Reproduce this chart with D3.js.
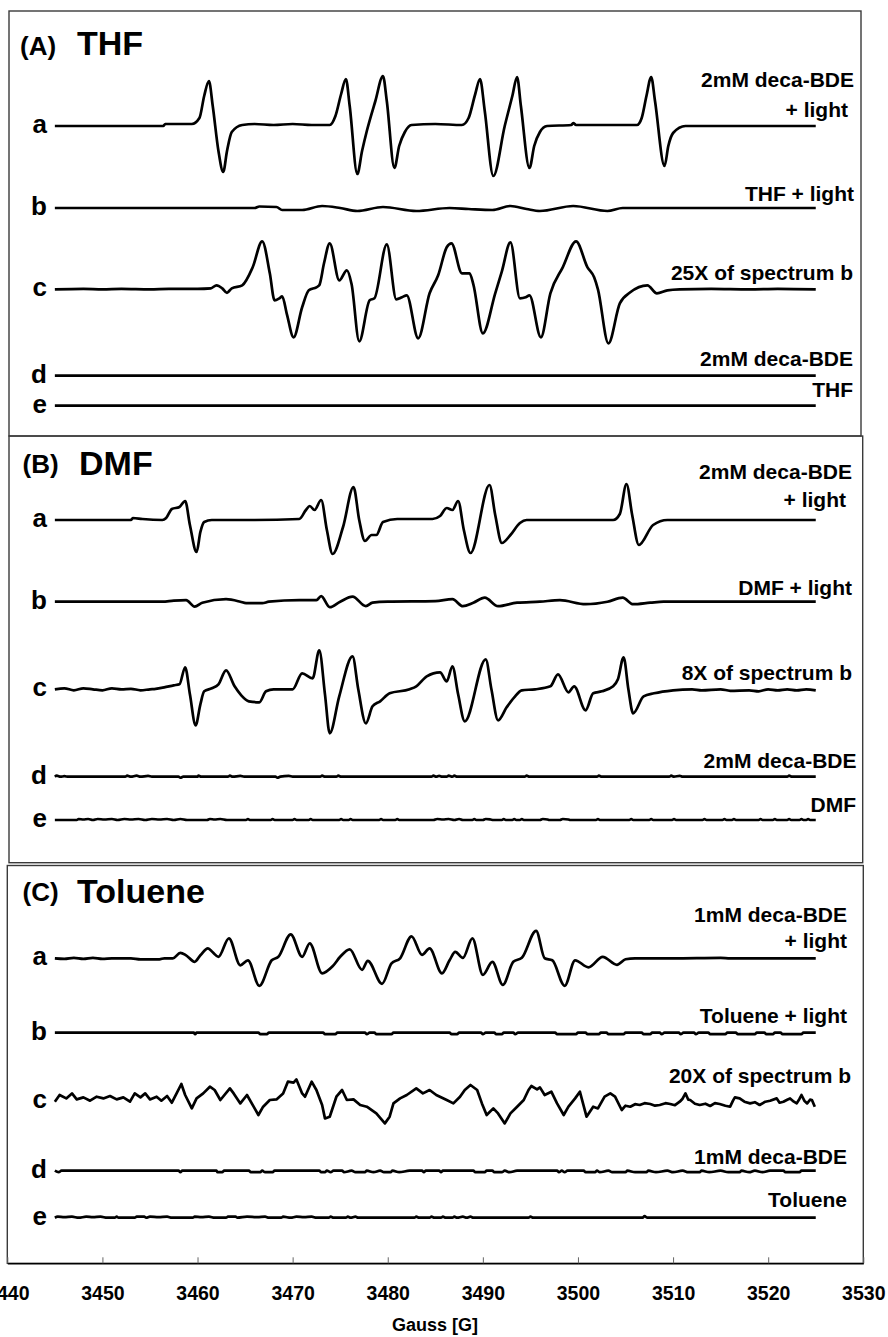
<!DOCTYPE html>
<html>
<head>
<meta charset="utf-8">
<script src="https://cdn.jsdelivr.net/npm/d3@7"></script>
<style>
  html, body { margin: 0; padding: 0; background: #fff; }
  svg { display: block; font-family: "Liberation Sans", Arial, Helvetica, sans-serif; }
</style>
</head>
<body>
<svg id="chart" width="888" height="1337"></svg>
<script>
// ── AXIS / LABEL TEXT ─────────────────────────────────────────────
const gaussTicks = [3440, 3450, 3460, 3470, 3480, 3490, 3500, 3510, 3520, 3530];
const axisTitle = 'Gauss [G]';
const panelTags = ['(A)', '(B)', '(C)'];
const solvents = ['THF', 'DMF', 'Toluene'];
const traceLetters = ['a', 'b', 'c', 'd', 'e'];
const labelsTHF = ['2mM deca-BDE', '+ light', 'THF + light', '25X of spectrum b', '2mM deca-BDE', 'THF'];
const labelsDMF = ['2mM deca-BDE', '+ light', 'DMF + light', '8X of spectrum b', '2mM deca-BDE', 'DMF'];
const labelsTol = ['1mM deca-BDE', '+ light', 'Toluene + light', '20X of spectrum b', '1mM deca-BDE', 'Toluene'];

// ── SPECTRA: [field (G), signal (a.u.)] ────────────────────────────
const thfA = [[3445,0],[3456.4,0],[3456.6,2],[3459.4,2],[3460.2,8],[3460.7,30],[3461.2,45],[3461.6,20],[3462.2,-25],[3462.7,-46],[3463.1,-25],[3463.6,-6],[3464.7,1],[3466,2],[3468,1],[3470,2],[3472,1],[3473.9,1],[3474.5,10],[3475.1,32],[3475.6,47],[3476.0,20],[3476.8,-48],[3477.3,-25],[3477.8,-5],[3478.7,25],[3479.5,50],[3479.9,25],[3480.7,-42],[3481.2,-20],[3481.8,-6],[3482.5,1],[3485,2],[3487.8,1],[3488.5,8],[3489.2,32],[3489.7,47],[3490.2,15],[3491.1,-50],[3492.3,0],[3493.1,30],[3493.6,49],[3494.0,20],[3494.9,-42],[3495.4,-20],[3496.0,-6],[3496.75,0],[3499.3,1],[3499.5,3],[3499.8,1],[3506.2,1],[3506.7,8],[3507.2,30],[3507.7,49],[3508.1,25],[3509.1,-40],[3509.5,-20],[3510.0,-7],[3511.3,0],[3525,0]];
const thfB = [[3445,0],[3466,0],[3466.5,1.5],[3468.3,1],[3468.9,-2],[3471,-2],[3473.1,2],[3475,0],[3476.8,-3],[3479.5,1],[3483,-3],[3486.5,0],[3488.5,-1],[3491,-2],[3492.9,2],[3494.6,-1],[3496,-3],[3499.5,2],[3503.1,-3],[3504.7,0],[3525,0]];
const thfC = [[3445,0],[3448,0.5],[3450,0],[3452,0.5],[3455,0],[3457,0.5],[3460,0.5],[3461.4,1],[3462.0,4],[3462.6,1],[3463.1,-3.5],[3463.6,1],[3464.7,4],[3465.8,22],[3466.8,48],[3467.6,16],[3468.1,-11],[3468.6,-9],[3468.9,-7],[3469.4,-25],[3470.1,-48],[3471.0,-18],[3471.7,-1],[3472.5,2],[3472.8,4],[3473.3,26],[3473.9,46],[3474.9,9],[3475.7,19],[3476.2,5],[3477.0,-52],[3478.1,-11],[3478.6,-9],[3479.9,45],[3480.9,-10],[3481.5,-8],[3482.0,-6],[3483.2,-49],[3484.4,-4],[3485.3,14],[3486.2,42],[3486.7,46],[3487.8,16],[3488.6,16],[3489.0,5],[3490.0,-44],[3491.3,-4],[3492.0,18],[3492.9,47],[3493.9,-9],[3494.5,-8],[3494.9,-6],[3496.1,-48],[3497.1,-4],[3498.4,22],[3499.8,48],[3501.0,22],[3501.7,12],[3502.1,0],[3503.2,-54],[3504.4,-14],[3505.5,-3],[3507.3,4],[3508.3,-4],[3509.4,-1],[3510.7,0],[3514,0.5],[3518,0],[3521,0.5],[3525,0]];
const thfD = [[3445,0],[3525,0]];
const thfE = [[3445,0],[3525,0]];

const dmfA = [[3445,0],[3453.0,0],[3453.2,2],[3454.2,1],[3456.3,0],[3456.7,2],[3457.3,11],[3458.1,13],[3458.7,19],[3459.2,-5],[3459.9,-32],[3460.3,-12],[3460.7,-2],[3461.5,0],[3466,0],[3470.7,1],[3471.4,10],[3471.8,14],[3472.3,10],[3473.0,20],[3473.6,-10],[3474.2,-34],[3475.3,-7],[3476.4,33],[3477.0,0],[3477.6,-21],[3478.3,-15],[3478.8,-15],[3479.5,-2],[3481,1],[3484.7,1],[3485.5,4],[3486.2,12],[3486.8,10],[3487.4,19],[3488.0,-10],[3488.7,-33],[3490.7,35],[3491.3,5],[3492.0,-23],[3492.9,-15],[3493.9,-3],[3494.6,0],[3503.7,0],[3504.4,6],[3505.1,36],[3505.7,5],[3506.4,-25],[3507.9,-5],[3509.4,0],[3525,0]];
const dmfB = [[3445,0],[3456.3,0],[3457.5,1],[3458.8,1.5],[3459.7,-5],[3460.5,-1],[3463.0,2.5],[3464.5,0],[3465.1,-1.5],[3466.8,-1.5],[3467.5,0],[3470.7,1.5],[3472.5,1.5],[3473.0,5.5],[3473.9,-5.5],[3475,0],[3476.3,5],[3477.7,-4.5],[3478.4,-1],[3480,0],[3485,0.5],[3486.8,2.5],[3487.9,-4.5],[3489.0,-1],[3490.2,4],[3491.6,-4.5],[3493.6,-1],[3496,0],[3498.1,1.5],[3500.8,-2.5],[3503.1,0],[3504.7,4],[3505.8,-2.5],[3507.6,-1],[3509,0],[3525,0]];
const dmfC = [[3445,0],[3446,1],[3447,-1],[3448,1],[3449,0],[3450,-1],[3451,1],[3452,0],[3453,0.5],[3454,-1],[3455,0],[3455.6,0.5],[3456.5,2],[3457.5,4],[3458.1,5],[3458.7,22],[3459.2,-5],[3459.8,-36],[3460.3,-15],[3460.7,-2],[3461.5,1],[3462.2,5],[3463.0,19],[3463.9,3],[3464.6,-6],[3465.4,-12],[3466.5,-13],[3467.2,-2],[3468,0],[3470,0],[3471.0,16],[3472.1,11],[3472.8,39],[3473.4,-5],[3473.9,-44],[3474.9,-7],[3476.3,33],[3476.9,0],[3477.7,-34],[3478.4,-17],[3479.2,-12],[3480.2,-4],[3482.3,0],[3483,3],[3484.1,13],[3485.5,17],[3486.2,8],[3486.8,23],[3487.4,-5],[3488.1,-32],[3490.3,30],[3490.9,0],[3491.6,-31],[3492.5,-18],[3493.3,-8],[3494.1,-1],[3495.5,0],[3497.1,3],[3497.9,15],[3499.0,-3],[3499.6,3],[3500.8,-21],[3501.6,-4],[3502.5,-2],[3503.7,3],[3504.2,10],[3504.8,32],[3505.3,0],[3505.8,-24],[3506.9,-7],[3508,-4],[3510.0,-1],[3512,0],[3513,-1],[3515,0],[3516,-1.5],[3518,-1],[3519,-2],[3520,0],[3521,-1],[3522,0],[3523,-1],[3524,0],[3525,-1]];
const dmfD = [[3445,0],[3445.2,1],[3445.6,0],[3446,0.5],[3446.4,0],[3452.4,0],[3452.6,1],[3453,0],[3453.6,1],[3454,0],[3454.8,0.8],[3455.2,0],[3458,0],[3458.2,-1],[3458.5,0],[3460,0],[3460.1,1],[3460.4,0],[3463.2,0],[3463.4,1],[3463.7,0],[3464.5,0.8],[3464.9,0],[3468.2,0],[3468.4,-1],[3468.7,0],[3469.6,0.8],[3470,0],[3472.9,0],[3473.1,1],[3473.4,0],[3474.6,0],[3474.8,1],[3475.1,0],[3484.6,0],[3484.8,1],[3485.1,0],[3485.4,0.8],[3485.7,0],[3486.2,0],[3486.4,1],[3486.8,0],[3487.0,1],[3487.3,0],[3494.4,0],[3494.6,1],[3494.9,0],[3502,0],[3502.2,1],[3502.5,0],[3509.6,0],[3509.8,1],[3510.1,0],[3510.7,0.8],[3511,0],[3522,0],[3522.2,1],[3522.5,0],[3525,0]];
const dmfE = [[3445,0],[3447.3,0],[3447.5,1],[3448,0.5],[3448.5,1],[3449,0],[3449.5,1],[3450.2,0.5],[3451,1],[3451.6,0],[3452.3,1],[3453,0.5],[3453.8,1],[3454.5,0],[3455.2,1],[3456,0.5],[3456.8,1],[3457.5,0],[3458.2,1],[3458.9,0],[3461,0],[3461.3,1],[3461.8,0.5],[3462.4,1],[3463.1,0],[3465.1,0],[3465.3,1],[3465.5,0],[3467.7,0],[3467.9,1],[3468.1,0],[3470,0],[3470.2,1],[3470.4,0],[3471.7,0],[3471.9,1],[3472.1,0],[3474.9,0],[3475.1,1],[3475.3,0],[3475.9,0],[3476.1,1],[3476.3,0],[3479.1,0],[3479.3,1],[3479.5,0],[3480.8,0],[3481,1],[3481.2,0],[3484.8,0],[3485.2,1],[3485.8,0.5],[3486.4,1],[3487,0],[3487.5,1],[3487.9,0],[3488.9,0],[3489.1,1],[3489.3,0],[3490,0],[3490.3,1],[3490.8,0.5],[3491.1,0],[3492,0],[3492.2,1],[3492.4,0],[3493.1,0],[3493.3,1],[3493.5,0],[3493.9,0],[3494.1,1],[3494.3,0],[3496,0],[3496.3,1],[3496.8,0.5],[3497,0],[3498.1,0],[3498.4,1],[3499,0.5],[3499.2,0],[3501.9,0],[3502.1,1],[3502.3,0],[3505.4,0],[3505.6,1],[3505.8,0],[3507.5,0],[3507.7,1],[3507.9,0],[3509.9,0],[3510.1,1],[3510.3,0],[3513.1,0],[3513.3,1],[3513.5,0],[3515.2,0],[3515.4,1],[3515.6,0],[3516.2,0],[3516.4,1],[3516.6,0],[3519,0],[3519.2,1],[3519.4,0],[3520.5,0],[3520.7,1],[3520.9,0],[3522,0],[3522.2,1],[3522.4,0],[3523.3,0],[3523.5,1],[3523.7,0],[3524,0],[3524.2,1],[3524.4,0],[3525,0]];

const tolA = [[3445,0],[3446,-0.5],[3447,0.5],[3448,-0.5],[3449,0.5],[3450,-0.5],[3451,0],[3453,0],[3454,-1],[3456,-1],[3456.5,0],[3457.4,0],[3458.2,5.5],[3458.8,3],[3459.7,-3.5],[3460.3,3],[3461.1,10],[3461.6,6],[3462.2,1.5],[3463.3,20],[3464.5,-7],[3465.3,-2],[3466.5,-27.5],[3467.8,-2],[3468.5,1.5],[3469.8,24],[3471.0,1.5],[3471.8,15],[3473.1,-15],[3474.2,-8],[3475.0,1.5],[3476.0,9],[3477.3,-11.5],[3477.9,-2.5],[3479.4,-25.5],[3480.4,-5],[3481.3,0],[3482.5,22],[3483.6,3.5],[3484.4,10],[3485.7,-15],[3486.5,-2],[3487.1,6.5],[3487.9,0.5],[3488.9,20],[3490.0,-16.5],[3491.0,-3.5],[3492.1,-26.5],[3493.2,-3.5],[3494.1,0.5],[3495.6,27.5],[3496.5,0],[3497.3,-2],[3498.6,-27.5],[3499.7,-2],[3501.1,-9],[3502.6,1.5],[3504.1,-6.5],[3505.0,-1],[3506,0],[3510,0],[3515,0.5],[3516,0],[3520,0],[3525,0]];
const tolB = [[3445,0],[3459.6,0],[3459.75,-1.5],[3459.9,0],[3466.4,0],[3466.6,-1.5],[3467.3,-1.5],[3467.5,0],[3473.2,0],[3473.4,-1.5],[3474.5,-1.5],[3474.7,0],[3477.6,0],[3477.8,-1.5],[3478.1,0],[3478.6,0],[3478.8,-1.5],[3480.4,-1.5],[3480.6,0],[3486.5,0],[3486.7,-1.5],[3487.3,-1.5],[3487.5,0],[3489.8,0],[3490,-1.5],[3490.3,0],[3491.2,0],[3491.4,-1.5],[3492,-1.5],[3492.2,0],[3493.2,0],[3493.4,-1.5],[3493.7,0],[3497.6,0],[3497.8,-1.5],[3499.8,-1.5],[3500,0],[3500.8,0],[3501,-1.5],[3502.2,-1.5],[3502.4,0],[3503,0],[3503.2,-1.5],[3504.8,-1.5],[3505,0],[3506.7,0],[3506.9,-1.5],[3507.6,-1.5],[3507.8,0],[3508.6,0],[3508.8,-1.5],[3509.1,0],[3510.6,0],[3510.8,-1.5],[3511.1,0],[3512.2,0],[3512.4,-1.5],[3512.7,0],[3513.7,0],[3513.9,-1.5],[3515.5,-1.5],[3515.7,0],[3516.6,0],[3516.8,-1.5],[3518.6,-1.5],[3518.8,0],[3519.6,0],[3519.8,-1.5],[3520.5,-1.5],[3520.7,0],[3521.3,0],[3521.5,-1.5],[3523.5,-1.5],[3523.7,0],[3525,0]];
const tolC = [[3445.0,-1],[3445.5,5.7],[3446.2,2.3],[3446.8,7.3],[3447.3,1.3],[3448.0,3.3],[3448.7,0],[3449.4,4],[3450.1,2.3],[3450.8,4.7],[3451.5,1.3],[3452.2,3.3],[3452.9,-1],[3453.4,7.3],[3454.0,3.3],[3454.5,7.3],[3455.0,1.3],[3455.7,4],[3456.2,0],[3456.8,4.7],[3457.3,-2],[3457.8,7.3],[3458.3,16.7],[3458.7,5.7],[3459.4,-7.7],[3459.9,2.3],[3460.6,7.3],[3461.3,14],[3461.8,10.7],[3462.4,0.7],[3463.4,12.3],[3463.8,7.3],[3464.5,-2.7],[3465.2,5.7],[3465.9,-6],[3466.4,-14.3],[3466.9,-6],[3467.6,0.7],[3468.3,1.3],[3469.0,7.3],[3469.5,19],[3470.1,18],[3470.4,21.3],[3471.0,7.3],[3471.3,4],[3472.0,19],[3472.5,10.7],[3473.1,-4.3],[3473.4,-17.7],[3473.9,-16],[3474.6,4],[3475.2,10.7],[3475.7,0.7],[3476.4,1.3],[3477.1,-4.3],[3477.8,-6],[3478.8,-12.7],[3479.7,-22.7],[3480.2,-16],[3480.6,-2.7],[3481.3,2.3],[3482.0,5.7],[3483.0,12.3],[3483.7,7.3],[3484.4,10.7],[3485.1,5.7],[3486.2,0.7],[3486.9,-2.7],[3487.6,4],[3488.1,10.7],[3488.7,15.7],[3489.4,10.7],[3489.9,-2.7],[3490.4,-14.3],[3491.1,-7.7],[3491.6,-12.7],[3492.3,-22.7],[3492.9,-12.7],[3493.6,-6],[3494.3,0.7],[3494.8,10.7],[3495.1,14.7],[3495.7,11.3],[3496.0,13.3],[3496.5,5.7],[3497.2,9],[3497.8,-2.7],[3498.5,-14.3],[3499.0,-6],[3499.7,2.3],[3500.2,9],[3500.9,-16],[3501.6,-6],[3502.1,-7.7],[3502.8,4],[3503.4,7.3],[3503.9,4],[3504.6,-9.3],[3505.0,-5],[3505.5,-6],[3506.0,-3.5],[3506.5,-4.3],[3507.0,-2.5],[3507.6,-3.3],[3508.1,-5],[3508.6,-4.3],[3509.2,-2.5],[3509.7,-3.3],[3510.2,-4.5],[3510.7,-1],[3511.0,2],[3511.3,7.3],[3511.6,1],[3511.8,0.7],[3512.3,-3],[3512.8,-4.3],[3513.4,-3],[3513.9,-5.3],[3514.4,-2.5],[3514.9,-3.3],[3515.5,-5],[3516.0,-6],[3516.3,0],[3516.5,3.3],[3517.0,2.3],[3517.5,-1],[3518.1,-2.7],[3518.6,-1.5],[3519.1,-4.3],[3519.7,-1],[3520.2,0],[3520.9,2.3],[3521.2,-2],[3521.6,-1],[3522.0,1],[3522.3,2.3],[3522.7,-1],[3523.0,-2.7],[3523.3,2],[3523.5,5.7],[3523.8,0],[3524.1,-2.7],[3524.4,1],[3524.6,0.7],[3524.9,-6]];
const tolD = [[3445,0],[3445.4,-1.5],[3445.7,0],[3458,0],[3458.2,-1.5],[3458.4,0],[3462,0],[3462.1,-1.5],[3462.6,-1.5],[3462.8,0],[3465.4,0],[3465.6,-1.5],[3466.6,-1.5],[3466.8,0],[3467.1,-1.5],[3467.9,-1.5],[3468.1,0],[3472.8,0],[3473,-1.5],[3473.4,-1.5],[3473.6,0],[3474,-1.5],[3474.3,0],[3475.2,0],[3475.4,-1.5],[3476.2,0],[3476.6,-1.5],[3477.6,-1.5],[3477.8,0],[3478.5,-1.5],[3479.2,0],[3479.6,-1.5],[3480.3,-1.5],[3480.5,0],[3481.2,-1.5],[3482.3,0],[3483.6,0],[3483.8,-1.5],[3484,0],[3485.4,0],[3485.6,-1.5],[3485.8,0],[3489,0],[3489.2,-1.5],[3490.2,-1.5],[3490.4,0],[3491,0],[3491.2,-1.5],[3492,-1.5],[3492.3,0],[3492.8,-1.5],[3493.6,0],[3497.8,0],[3498,-1.5],[3498.3,0],[3498.6,-1.5],[3498.9,0],[3500.6,0],[3500.8,-1.5],[3501.8,-1.5],[3502,0],[3502.3,-1.5],[3503.2,0],[3503.6,-1.5],[3505,-1.5],[3505.2,0],[3506,-1.5],[3507.2,-1.5],[3507.4,0],[3508.2,-1.5],[3509.4,0],[3510,-1.5],[3511,0],[3511.6,-1.5],[3512.8,-1.5],[3513,0],[3513.8,-1.5],[3515,0],[3515.8,-1.5],[3517,-1.5],[3517.2,0],[3518,-1.5],[3518.6,0],[3519.4,-1.5],[3520.2,0],[3521.6,0],[3521.8,-1.5],[3523.3,-1.5],[3523.5,0],[3525,0]];
const tolE = [[3445,0],[3445.3,1],[3446,0.5],[3446.8,1],[3447.5,0],[3448.3,1],[3449,0.5],[3449.8,1],[3450.5,0],[3451.3,0],[3451.5,1],[3451.7,0],[3453.4,0],[3453.6,1],[3454.4,1],[3454.6,0],[3455,1],[3455.9,0.5],[3456.8,1],[3457.3,0],[3459.5,0],[3459.7,1],[3460.4,0.5],[3461.2,1],[3461.8,0],[3463,0],[3463.2,1],[3464,1],[3464.2,0],[3465.2,1],[3466.3,0.5],[3467.1,1],[3467.5,0],[3468.8,0],[3469,1],[3469.8,0],[3470.4,1],[3471.2,0.5],[3472,1],[3472.5,0],[3473.8,0],[3474,1],[3474.3,0],[3475.6,0],[3475.8,1],[3476.1,0],[3476.6,1],[3476.9,0],[3482.8,0],[3483,1],[3483.3,0],[3484.4,0],[3484.6,1],[3484.9,0],[3485.6,0],[3485.8,1],[3486.1,0],[3486.8,0],[3487,1],[3487.3,0],[3487.9,1],[3488.3,0],[3488.7,1],[3489,0],[3494.8,0],[3495,1],[3495.3,0],[3506.8,0],[3507,1.5],[3507.3,0],[3525,0]];

// ── LAYOUT ────────────────────────────────────────────────────────
const W = 888, H = 1337;
const axisY = 1263.3;
const panels = [
  { box: [9, 11, 861, 436], tagX: 20, tagY: 55, nameX: 77, nameY: 55,
    base: [126, 208, 289.3, 375.7, 405.7],
    traces: [thfA, thfB, thfC, thfD, thfE], labels: labelsTHF,
    labelX: [854, 848, 854, 853, 853, 853], labelY: [87.3, 117, 201, 280, 366, 397] },
  { box: [9, 436, 862.7, 862.7], tagX: 22.5, tagY: 473, nameX: 79, nameY: 475,
    base: [520, 601.7, 689.3, 776.7, 820],
    traces: [dmfA, dmfB, dmfC, dmfD, dmfE], labels: labelsDMF,
    labelX: [852, 846, 852, 852, 856.5, 856], labelY: [479.3, 507.3, 595, 680, 768.3, 811.7] },
  { box: [7.3, 865.5, 863.3, axisY], tagX: 22.5, tagY: 901, nameX: 77, nameY: 903.3,
    base: [958.3, 1032.7, 1100.7, 1170.7, 1217.7],
    traces: [tolA, tolB, tolC, tolD, tolE], labels: labelsTol,
    labelX: [847, 847, 847, 851, 847, 847], labelY: [921.7, 948.3, 1023.3, 1082.7, 1164, 1206.7],
    jagged: [2] }
];

const svg = d3.select('#chart');

const x = d3.scaleLinear().domain([3440, 3530]).range([7.3, 863.3]);

panels.forEach((p, pi) => {
  const [x0, y0, x1, y1] = p.box;
  svg.append('rect')
    .attr('x', x0).attr('y', y0)
    .attr('width', x1 - x0).attr('height', y1 - y0)
    .attr('fill', 'none')
    .attr('stroke', '#3a3a3a')
    .attr('stroke-width', 1.4);

  // panel title
  svg.append('text')
    .attr('x', p.tagX).attr('y', p.tagY)
    .attr('font-size', 26).attr('font-weight', 'bold')
    .text(panelTags[pi]);
  svg.append('text')
    .attr('x', p.nameX).attr('y', p.nameY)
    .attr('font-size', 34).attr('font-weight', 'bold')
    .text(solvents[pi]);

  // spectra
  p.traces.forEach((data, ti) => {
    const base = p.base[ti];
    const y = d3.scaleLinear().domain([-60, 60]).range([base + 60, base - 60]);
    const jag = p.jagged && p.jagged.includes(ti);
    const line = d3.line()
      .x(d => x(d[0]))
      .y(d => y(d[1]))
      .curve(jag ? d3.curveLinear : d3.curveMonotoneX);

    svg.append('path')
      .datum(data)
      .attr('d', line)
      .attr('fill', 'none')
      .attr('stroke', '#000')
      .attr('stroke-width', 2.7)
      .attr('stroke-linejoin', 'round')
      .attr('stroke-linecap', 'butt');

    svg.append('text')
      .attr('x', 47).attr('y', base + 7)
      .attr('text-anchor', 'end')
      .attr('font-size', 26).attr('font-weight', 'bold')
      .text(traceLetters[ti]);
  });

  // right-hand captions
  p.labels.forEach((t, li) => {
    svg.append('text')
      .attr('x', p.labelX[li]).attr('y', p.labelY[li])
      .attr('text-anchor', 'end')
      .attr('font-size', 21).attr('font-weight', 'bold')
      .text(t);
  });
});

// ── X AXIS ────────────────────────────────────────────────────────
const axis = d3.axisBottom(x)
  .tickValues(gaussTicks)
  .tickFormat(d3.format('d'))
  .tickSize(-6)
  .tickSizeOuter(0)
  .tickPadding(23);

const gAxis = svg.append('g')
  .attr('transform', `translate(0,${axisY})`)
  .call(axis);

gAxis.select('.domain').attr('stroke', '#000').attr('stroke-width', 1.6);
gAxis.selectAll('.tick line').attr('stroke', '#666').attr('stroke-width', 1);
gAxis.selectAll('.tick text')
  .attr('fill', '#000')
  .attr('font-size', 19.5)
  .attr('font-weight', 'bold')
  .attr('font-family', '"Liberation Sans", Arial, sans-serif');

svg.append('text')
  .attr('x', 435).attr('y', 1331)
  .attr('text-anchor', 'middle')
  .attr('font-size', 18).attr('font-weight', 'bold')
  .text(axisTitle);
</script>
</body>
</html>
